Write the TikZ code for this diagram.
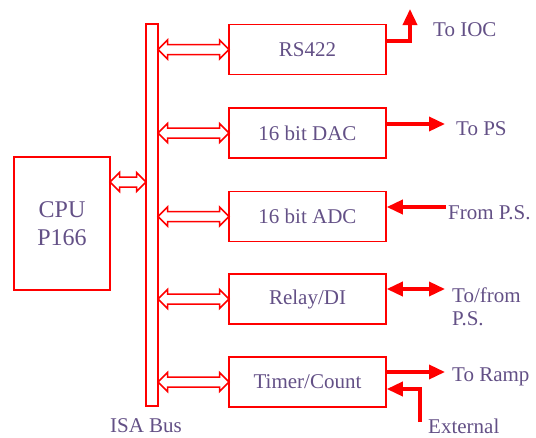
\documentclass[tikz,border=0pt]{standalone}
\usepackage{fontspec}
\setmainfont{Liberation Serif}
\usetikzlibrary{shapes.arrows, arrows.meta, positioning, calc}
\definecolor{labelpurple}{RGB}{99,80,134}

\begin{document}
\begin{tikzpicture}[
      x=1pt, y=-1pt,
      box/.style={rectangle, draw=red, line width=1.5pt, minimum width=157pt, minimum height=50pt, inner sep=0pt, text=labelpurple, font=\fontsize{21}{24}\selectfont},
      lbl/.style={anchor=west, align=left, inner sep=0pt, text=labelpurple, font=\fontsize{21}{23}\selectfont},
      busarrow/.style={double arrow, draw=red, line width=1.5pt, inner sep=4.25pt, double arrow head extend=4.5pt},
      sig/.style={draw=red, line width=3.5pt, -{Triangle[length=16pt, width=14pt]}}
    ]
    \useasboundingbox (0,0) rectangle (536,437);

    % bus and processor
    \node[rectangle, draw=red, line width=1.5pt, minimum width=12pt, minimum height=382pt, inner sep=0pt] (bus) at (152,215) {};
    \node[rectangle, draw=red, line width=1.5pt, minimum width=96pt, minimum height=133pt, align=center, text=labelpurple, font=\fontsize{24}{28}\selectfont] (cpu) at (62,223.5) {CPU\\P166};
    \node[lbl, anchor=center] (isa) at (146,426) {ISA Bus};

    % interface boards
    \node[box] (rs) at (307.5,49.5) {RS422};
    \node[box, below=32pt of rs] (dac) {16 bit DAC};
    \node[box, below=32pt of dac] (adc) {16 bit ADC};
    \node[box, below=31pt of adc] (relay) {Relay/DI};
    \node[box, below=31.5pt of relay] (timer) {Timer/Count};

    % bus connections
    \node[busarrow, minimum height=36pt] (cpulink) at ($(cpu.east |- 0,182)!0.5!(bus.west |- 0,182)$) {};
    \node[busarrow, minimum height=71pt] (rslink) at ($(bus.east |- rs.west)!0.5!(rs.west)$) {};
    \node[busarrow, minimum height=71pt] (daclink) at ($(bus.east |- dac.west)!0.5!(dac.west)$) {};
    \node[busarrow, minimum height=71pt] (adclink) at ($(bus.east |- adc.west)!0.5!(adc.west)$) {};
    \node[busarrow, minimum height=71pt] (relaylink) at ($(bus.east |- relay.west)!0.5!(relay.west)$) {};
    \node[busarrow, minimum height=71pt] (timerlink) at ($(bus.east |- timer.west)!0.5!(timer.west)$) {};

    % external signals
    \coordinate (ioc) at (410,9);
    \draw[sig] (rs.east |- 0,41) -| (ioc);
    \node[lbl] (iocl) at (433,30) {To IOC};

    \coordinate (ps) at (445,124);
    \draw[sig] (dac.east |- ps) -- (ps);
    \node[lbl] (psl) at (456,129) {To PS};

    \coordinate (fromps) at (446,207);
    \draw[sig] (fromps) -- (adc.east |- fromps);
    \node[lbl] (frompsl) at (448,213) {From P.S.};

    \coordinate (tofrom) at (445,289);
    \draw[sig, {Triangle[length=16pt, width=14pt]}-{Triangle[length=16pt, width=14pt]}] (relay.east |- tofrom) -- (tofrom);
    \node[lbl] (tofroml) at (452,307) {To/from\\P.S.};

    \coordinate (ramp) at (445,372);
    \draw[sig] (timer.east |- ramp) -- (ramp);
    \node[lbl] (rampl) at (452,377) {To Ramp};

    \coordinate (ext) at (420,422);
    \draw[sig] (ext) |- (timer.east |- 0,389);
    \node[lbl] (extl) at (428,426) {External};
  \end{tikzpicture}
\end{document}
